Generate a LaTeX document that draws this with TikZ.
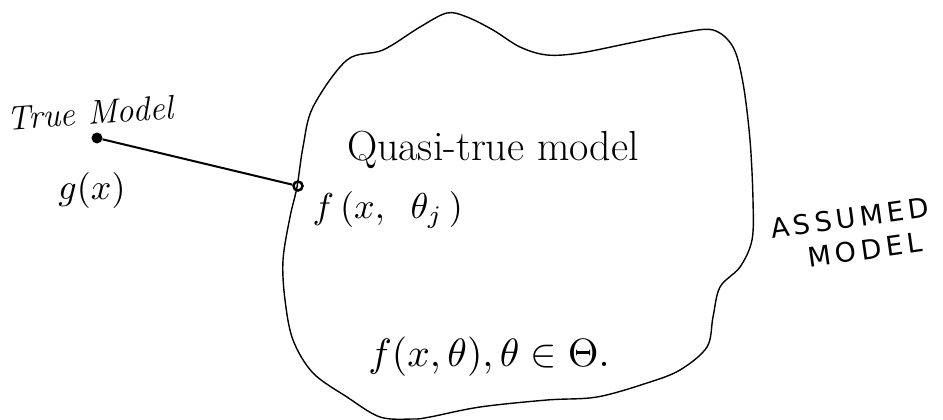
\documentclass[tikz,border=0pt]{standalone}
\usepackage{fontspec}
\newfontfamily\handfont[LetterSpace=16]{DejaVu Sans}
\begin{document}
\begin{tikzpicture}[x=1pt,y=-1pt,
  blob/.style={draw=black,line width=1.4pt,line join=round},
  link/.style={draw=black,line width=2pt},
  bigtext/.style={font=\fontsize{42}{50}\selectfont,inner sep=0pt},
  bigmath/.style={font=\fontsize{10}{12}\selectfont,inner sep=0pt,scale=3.95},
  hand/.style={font=\fontsize{34}{40}\selectfont\itshape,inner sep=0pt},
  handmath/.style={font=\fontsize{10}{12}\selectfont,inner sep=0pt,scale=3.6},
  caps/.style={font=\fontsize{27}{32}\selectfont\handfont,inner sep=0pt}]
\useasboundingbox (0,0) rectangle (943,420);
% assumed-model outline
\draw[blob] plot[smooth cycle,tension=0.55] coordinates {
 (347,60) (383,50) (420,27) (447,13) (467,17) (493,30) (520,47) (547,55)
 (580,53) (630,43) (680,33) (713,30) (733,47) (743,83) (750,140) (753,200)
 (752,240) (740,267) (720,287) (713,317) (707,347) (680,370) (647,383)
 (597,397) (547,400) (480,407) (430,417) (413,419) (380,417) (347,397)
 (313,373) (293,340) (285,300) (283,260) (290,217) (297,187) (303,147)
 (313,107)};
% points
\node[circle,fill=black,inner sep=0pt,minimum size=11pt] (tm) at (97,138) {};
\node[circle,draw=black,line width=2.5pt,inner sep=0pt,minimum size=9pt] (qt) at (298,186) {};
\draw[link] (tm) -- (qt);
% labels
\node[hand,rotate=4] (tml) at (90,113) {True Model};
\node[handmath] (gx) at (92,190) {$g(x)$};
\node[bigtext] (qtl) at (493,150) {Quasi-true model};
\node[handmath,anchor=west] (fxt) at (312,210) {$f\,(x,\;\;\theta_j\,)$};
\node[bigmath] (fam) at (489,357) {$f(x,\theta),\theta\in\Theta.$};
\node[caps,rotate=8] (am1) at (850,218) {ASSUMED};
\node[caps,rotate=8] (am2) at (865,250) {MODEL};
\end{tikzpicture}
\end{document}
